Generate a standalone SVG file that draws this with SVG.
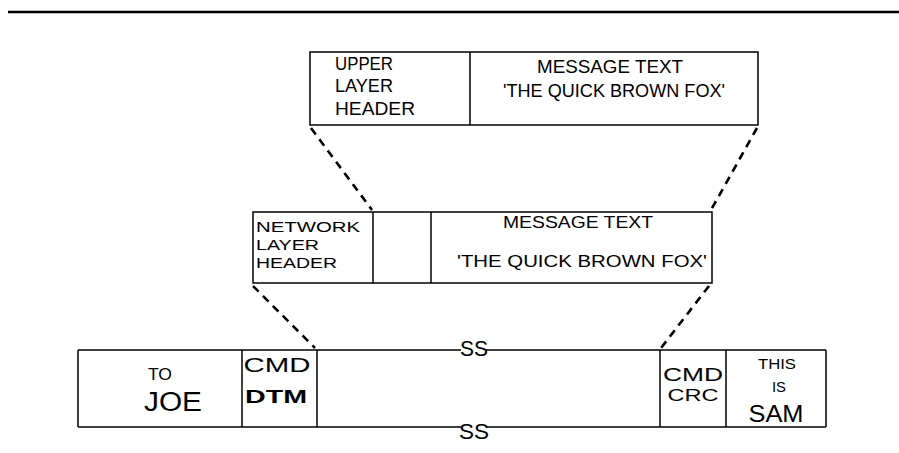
<svg xmlns="http://www.w3.org/2000/svg" width="899" height="453" viewBox="0 0 899 453">
<style>
.b{fill:none;stroke:#000;stroke-width:1.5}
.d{fill:none;stroke:#000;stroke-width:2.6;stroke-dasharray:8 6}
text{font-family:"Liberation Sans",Arial,sans-serif;fill:#000}
.m{text-anchor:middle}
</style>
<rect width="899" height="453" fill="#fff"/>
<line x1="8" y1="12" x2="899" y2="12" stroke="#000" stroke-width="2.6"/>
<g id="upper-packet">
<rect class="b" x="310" y="52" width="448" height="73"/>
<line class="b" x1="470" y1="52" x2="470" y2="125"/>
<text x="335" y="70" font-size="18" textLength="58" lengthAdjust="spacingAndGlyphs">UPPER</text>
<text x="335" y="92" font-size="18" textLength="58" lengthAdjust="spacingAndGlyphs">LAYER</text>
<text x="335" y="115" font-size="18" textLength="80" lengthAdjust="spacingAndGlyphs">HEADER</text>
<text x="537" y="73" font-size="18" textLength="146" lengthAdjust="spacingAndGlyphs">MESSAGE TEXT</text>
<text x="503" y="97" font-size="18" textLength="222" lengthAdjust="spacingAndGlyphs">'THE QUICK BROWN FOX'</text>
</g>
<g id="network-packet">
<rect class="b" x="253" y="212" width="459" height="71"/>
<line class="b" x1="373" y1="212" x2="373" y2="283"/>
<line class="b" x1="431" y1="212" x2="431" y2="283"/>
<text x="256" y="232" font-size="15" textLength="104" lengthAdjust="spacingAndGlyphs">NETWORK</text>
<text x="256" y="250" font-size="15" textLength="63" lengthAdjust="spacingAndGlyphs">LAYER</text>
<text x="256" y="268" font-size="15" textLength="81" lengthAdjust="spacingAndGlyphs">HEADER</text>
<text x="503" y="228" font-size="17" textLength="150" lengthAdjust="spacingAndGlyphs">MESSAGE TEXT</text>
<text x="457" y="267" font-size="17" textLength="250" lengthAdjust="spacingAndGlyphs">'THE QUICK BROWN FOX'</text>
</g>
<g id="frame">
<line class="b" x1="78" y1="350" x2="78" y2="427"/>
<line class="b" x1="826" y1="350" x2="826" y2="427"/>
<line class="b" x1="78" y1="350" x2="461" y2="350"/>
<line class="b" x1="486" y1="350" x2="826" y2="350"/>
<line class="b" x1="78" y1="427" x2="461" y2="427"/>
<line class="b" x1="486" y1="427" x2="826" y2="427"/>
<line class="b" x1="242" y1="350" x2="242" y2="427"/>
<line class="b" x1="317" y1="350" x2="317" y2="427"/>
<line class="b" x1="660" y1="350" x2="660" y2="427"/>
<line class="b" x1="726" y1="350" x2="726" y2="427"/>
<text class="m" x="474" y="356" font-size="22" textLength="28" lengthAdjust="spacingAndGlyphs">SS</text>
<text class="m" x="474" y="439" font-size="22" textLength="30" lengthAdjust="spacingAndGlyphs">SS</text>
<text class="m" x="160" y="380" font-size="17" textLength="24" lengthAdjust="spacingAndGlyphs">TO</text>
<text class="m" x="173" y="411" font-size="27" textLength="58" lengthAdjust="spacingAndGlyphs">JOE</text>
<text class="m" x="277" y="372" font-size="21" textLength="67" lengthAdjust="spacingAndGlyphs">CMD</text>
<text class="m" x="276" y="403" font-size="18" font-weight="bold" textLength="62" lengthAdjust="spacingAndGlyphs">DTM</text>
<text class="m" x="693" y="381" font-size="18" textLength="60" lengthAdjust="spacingAndGlyphs">CMD</text>
<text class="m" x="693" y="401" font-size="17" textLength="51" lengthAdjust="spacingAndGlyphs">CRC</text>
<text class="m" x="777" y="369" font-size="15" textLength="38" lengthAdjust="spacingAndGlyphs">THIS</text>
<text class="m" x="779" y="392" font-size="15" textLength="14" lengthAdjust="spacingAndGlyphs">IS</text>
<text class="m" x="776" y="422" font-size="24" textLength="55" lengthAdjust="spacingAndGlyphs">SAM</text>
</g>
<g id="connectors">
<line class="d" x1="311" y1="128" x2="372" y2="210"/>
<line class="d" x1="757" y1="128" x2="711" y2="210"/>
<line class="d" x1="253" y1="286" x2="315" y2="348"/>
<line class="d" x1="709" y1="286" x2="661" y2="348"/>
</g>
</svg>
